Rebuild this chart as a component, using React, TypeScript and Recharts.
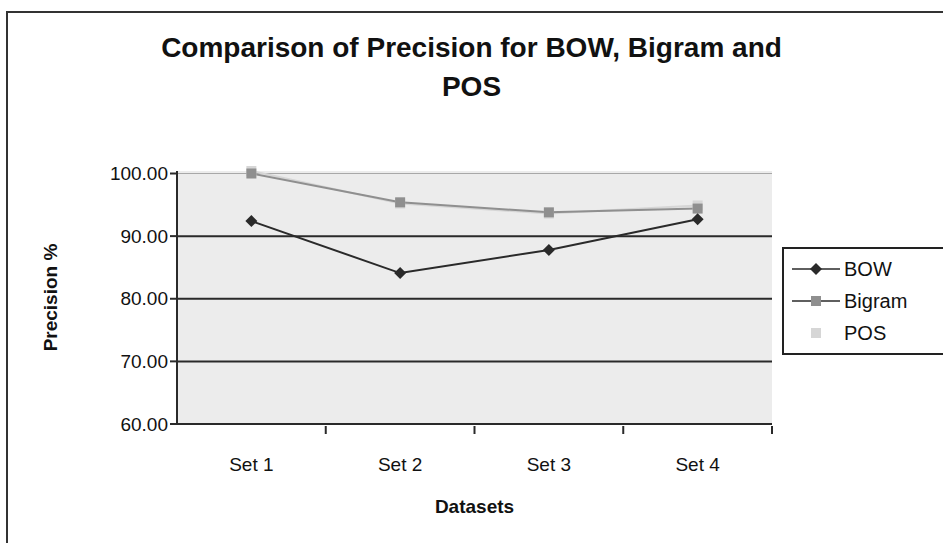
import React from "react";
import {
  CartesianGrid, Line, LineChart, ReferenceLine, XAxis, YAxis,
} from "recharts";

const categories = ["Set 1", "Set 2", "Set 3", "Set 4"];
const bow = [92.4, 84.1, 87.8, 92.7];
const bigram = [100.0, 95.4, 93.8, 94.4];
const pos = [100.4, 95.2, 93.6, 94.9];
const yTicks = [60, 70, 80, 90, 100];
const gridLines = [70, 80, 90];

const data = categories.map((name, i) => ({ name, bow: bow[i], bigram: bigram[i], pos: pos[i] }));

const FONT = "'Liberation Sans', Arial, sans-serif";
const DARK = "#2a2a2a";
const BIGRAM = "#8f8f8f";
const POS = "#d6d6d6";

function Diamond({ cx, cy, fill }: any) {
  if (cx == null || cy == null) return null;
  return <polygon points={`${cx},${cy - 6} ${cx + 6},${cy} ${cx},${cy + 6} ${cx - 6},${cy}`} fill={fill} />;
}

function Square({ cx, cy, fill }: any) {
  if (cx == null || cy == null) return null;
  return <rect x={cx - 5} y={cy - 5} width={10} height={10} fill={fill} />;
}

// category label plus an Excel-style tick mark at the right edge of its band
function CatTick({ x, y, payload }: any) {
  const half = payload?.offset ?? 0;
  return (
    <g>
      <line x1={x + half} y1={y} x2={x + half} y2={y + 8} stroke={DARK} strokeWidth={2} />
      <text x={x} y={y + 45} textAnchor="middle" fill="#111" fontSize={19} fontFamily={FONT}>{payload.value}</text>
    </g>
  );
}

const legendItems = [
  { label: "BOW", color: DARK, mark: "diamond" },
  { label: "Bigram", color: BIGRAM, mark: "square" },
  { label: "POS", color: POS, mark: "square" },
];

function LegendBox() {
  return (
    <div style={{ position: "absolute", left: 782, top: 247, border: "2px solid #222", borderRight: "none", background: "#fff", padding: "4px 0 4px 6px", width: 170, fontFamily: FONT, fontSize: 20, color: "#111" }}>
      {legendItems.map((it) => (
        <div key={it.label} style={{ display: "flex", alignItems: "center", height: 32 }}>
          <svg width={52} height={16}>
            <line x1={2} y1={8} x2={50} y2={8} stroke={it.label === "POS" ? "none" : DARK} strokeWidth={1.5} />
            {it.mark === "diamond"
              ? <polygon points="26,2 32,8 26,14 20,8" fill={it.color} />
              : <rect x={21} y={3} width={10} height={10} fill={it.color} />}
          </svg>
          <span style={{ marginLeft: 2 }}>{it.label}</span>
        </div>
      ))}
    </div>
  );
}

export default function App() {
  return (
    <div style={{ position: "absolute", left: 0, top: 0, width: 943, height: 543, background: "#fff", overflow: "hidden" }}>
      <div style={{ position: "absolute", left: 6, top: 11, width: 950, height: 560, border: "2px solid #333" }} />
      <div style={{ position: "absolute", left: 0, top: 28, width: 943, textAlign: "center", fontFamily: FONT, fontWeight: "bold", fontSize: 28, lineHeight: "39px", color: "#111" }}>
        Comparison of Precision for BOW, Bigram and<br />POS
      </div>
      <LineChart width={943} height={543} data={data} margin={{ top: 171, right: 171, bottom: 0, left: 0 }} style={{ position: "absolute", left: 0, top: 0 }}>
        <CartesianGrid fill="#ececec" stroke="#a8a8a8" vertical={false} horizontalValues={[100]} />
        {gridLines.map((v) => (
          <ReferenceLine key={v} y={v} stroke={DARK} strokeWidth={2} />
        ))}
        <XAxis
          dataKey="name"
          scale="band"
          height={119}
          tickLine={false}
          tickSize={0}
          axisLine={{ stroke: DARK, strokeWidth: 2 }}
          tick={<CatTick />}
          label={{ value: "Datasets", position: "insideBottom", offset: 30, fill: "#111", fontSize: 19, fontWeight: "bold", fontFamily: FONT }}
        />
        <YAxis
          width={177}
          domain={[60, 100]}
          ticks={yTicks}
          interval={0}
          tickFormatter={(v: number) => v.toFixed(2)}
          tickSize={7}
          tickLine={{ stroke: DARK, strokeWidth: 2 }}
          axisLine={{ stroke: DARK, strokeWidth: 2 }}
          tick={{ fill: "#111", fontSize: 19, fontFamily: FONT }}
          label={{ value: "Precision %", angle: -90, position: "insideLeft", offset: 50, fill: "#111", fontSize: 19, fontWeight: "bold", fontFamily: FONT, style: { textAnchor: "middle" } }}
        />
        <YAxis yAxisId="right" orientation="right" width={0} domain={[60, 100]} tick={false} tickLine={false} axisLine={{ stroke: "#a8a8a8", strokeWidth: 1.5 }} />
        <Line dataKey="pos" name="POS" stroke={POS} strokeWidth={2} dot={<Square fill={POS} />} isAnimationActive={false} />
        <Line dataKey="bigram" name="Bigram" stroke={BIGRAM} strokeWidth={2} dot={<Square fill={BIGRAM} />} isAnimationActive={false} />
        <Line dataKey="bow" name="BOW" stroke={DARK} strokeWidth={2} dot={<Diamond fill={DARK} />} isAnimationActive={false} />
      </LineChart>
      <LegendBox />
    </div>
  );
}
